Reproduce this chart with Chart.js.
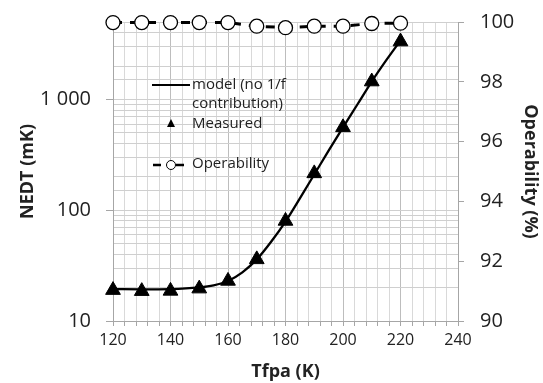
<!DOCTYPE html>
<html>
<head>
<meta charset="utf-8">
<script src="https://cdn.jsdelivr.net/npm/chart.js@4/dist/chart.umd.min.js"></script>
<style>
  body { margin: 0; background: #fff; }
  #wrap { width: 543px; height: 383px; }
</style>
</head>
<body>
<div id="wrap"><canvas id="chart" width="543" height="383"></canvas></div>
<script>
// Dados
const tempsMedidas = [120, 130, 140, 150, 160, 170, 180, 190, 200, 210, 220];
const nedtMedido = [19, 18.6, 18.7, 19.6, 23, 36, 80, 215, 560, 1450, 3330];
const operabilidade = [99.98, 99.98, 99.98, 99.98, 99.98, 99.86, 99.81, 99.86, 99.86, 99.95, 99.96];

const tempsModelo = [120, 130, 140, 150, 155, 160, 165, 170, 175, 180, 185, 190, 195, 200, 205, 210, 215, 220];
const nedtModelo = [19.4, 19.3, 19.4, 20.1, 21, 23, 27.5, 36, 52, 79, 128, 210, 345, 560, 900, 1450, 2250, 3400];

const legendaTextos = [['model (no 1/f', 'contribution)'], ['Measured'], ['Operability']];

const fonte = "'Open Sans', 'DejaVu Sans', sans-serif";
const corTexto = '#222';

const pts = (xs, ys) => xs.map((x, i) => ({ x: x, y: ys[i] }));

// Eixos verticais sem folga extra para os rótulos
const fixaLargura = (w) => (s) => {
    s.width = w;
    s.paddingTop = 0;
    s.paddingBottom = 0;
};

// Legenda desenhada dentro da área do gráfico
const legendaPlugin = {
    id: 'legendaInterna',
    afterDatasetsDraw(chart) {
        const ctx = chart.ctx;
        ctx.save();
        ctx.font = '15px ' + fonte;
        ctx.fillStyle = corTexto;
        ctx.textBaseline = 'middle';
        const xTexto = 192;
        // modelo
        ctx.strokeStyle = '#000';
        ctx.lineWidth = 2;
        ctx.beginPath();
        ctx.moveTo(152, 85);
        ctx.lineTo(190, 85);
        ctx.stroke();
        ctx.fillText(legendaTextos[0][0], xTexto, 85);
        ctx.fillText(legendaTextos[0][1], xTexto, 104);
        // medido
        ctx.fillStyle = '#000';
        ctx.beginPath();
        ctx.moveTo(171, 119);
        ctx.lineTo(175, 127);
        ctx.lineTo(167, 127);
        ctx.closePath();
        ctx.fill();
        ctx.fillStyle = corTexto;
        ctx.fillText(legendaTextos[1][0], xTexto, 124);
        // operabilidade
        ctx.lineWidth = 2.5;
        ctx.beginPath();
        ctx.moveTo(153, 165);
        ctx.lineTo(161, 165);
        ctx.moveTo(176, 165);
        ctx.lineTo(184, 165);
        ctx.stroke();
        ctx.lineWidth = 1;
        ctx.fillStyle = '#fff';
        ctx.beginPath();
        ctx.arc(171, 165, 4.5, 0, Math.PI * 2);
        ctx.fill();
        ctx.stroke();
        ctx.fillStyle = corTexto;
        ctx.fillText(legendaTextos[2][0], xTexto, 164);
        ctx.restore();
    }
};

new Chart(document.getElementById('chart'), {
    type: 'line',
    data: {
        datasets: [{
            label: 'Operability',
            data: pts(tempsMedidas, operabilidade),
            yAxisID: 'y2',
            borderColor: '#000',
            borderWidth: 3,
            borderDash: [9, 8],
            pointStyle: 'circle',
            pointRadius: 7,
            pointBackgroundColor: '#fff',
            pointBorderColor: '#000',
            pointBorderWidth: 1.3,
            clip: false,
            order: 1
        }, {
            label: 'Measured',
            data: pts(tempsMedidas, nedtMedido),
            yAxisID: 'y',
            showLine: false,
            pointStyle: 'triangle',
            pointRadius: 8.5,
            pointBackgroundColor: '#000',
            pointBorderColor: '#000',
            clip: false,
            order: 2
        }, {
            label: 'model (no 1/f contribution)',
            data: pts(tempsModelo, nedtModelo),
            yAxisID: 'y',
            borderColor: '#000',
            borderWidth: 2.3,
            pointRadius: 0,
            cubicInterpolationMode: 'monotone',
            order: 3
        }]
    },
    options: {
        responsive: false,
        animation: false,
        layout: { padding: { top: 22, right: 0, left: 0, bottom: 0 } },
        plugins: {
            legend: { display: false },
            tooltip: { enabled: false }
        },
        scales: {
            x: {
                type: 'linear',
                min: 120,
                max: 240,
                afterFit: (s) => { s.height = 62; s.paddingLeft = 0; s.paddingRight = 0; },
                border: { color: '#a6a6a6' },
                grid: {
                    color: (c) => c.tick && c.tick.value % 20 === 0 ? '#bdbdbd' : '#d9d9d9',
                    tickColor: '#a6a6a6',
                    tickLength: 5
                },
                ticks: {
                    stepSize: 4,
                    autoSkip: false,
                    maxRotation: 0,
                    padding: 5,
                    color: corTexto,
                    font: { family: fonte, size: 16 },
                    callback: (v) => v % 20 === 0 ? v : ''
                },
                title: {
                    display: true,
                    text: 'Tfpa (K)',
                    color: corTexto,
                    font: { family: fonte, size: 18, weight: 'bold' },
                    padding: { top: 6, bottom: 0 }
                }
            },
            y: {
                type: 'logarithmic',
                position: 'left',
                min: 10,
                max: 5000,
                afterFit: fixaLargura(113),
                border: { color: '#a6a6a6' },
                grid: {
                    color: '#cfcfcf',
                    tickColor: (c) => {
                        const l = Math.log10(c.tick.value);
                        return Math.abs(l - Math.round(l)) < 1e-9 ? '#a6a6a6' : 'rgba(0,0,0,0)';
                    },
                    tickLength: 7
                },
                ticks: {
                    autoSkip: false,
                    padding: 15,
                    color: corTexto,
                    font: { family: fonte, size: 20 },
                    callback: (v) => {
                        const l = Math.log10(v);
                        if (Math.abs(l - Math.round(l)) > 1e-9) return '';
                        return String(v).replace(/\B(?=(\d{3})+(?!\d))/g, ' ');
                    }
                },
                title: {
                    display: true,
                    text: 'NEDT (mK)',
                    color: corTexto,
                    font: { family: fonte, size: 18, weight: 'bold' },
                    padding: { top: 17, bottom: 0 }
                }
            },
            y2: {
                type: 'linear',
                position: 'right',
                min: 90,
                max: 100,
                afterFit: fixaLargura(85),
                border: { color: '#a6a6a6' },
                grid: {
                    drawOnChartArea: false,
                    tickColor: '#a6a6a6',
                    tickLength: 6
                },
                ticks: {
                    stepSize: 2,
                    padding: 16,
                    color: corTexto,
                    font: { family: fonte, size: 20 }
                },
                title: {
                    display: true,
                    text: 'Operability (%)',
                    color: corTexto,
                    font: { family: fonte, size: 18, weight: 'bold' },
                    padding: { top: 2, bottom: 0 }
                }
            }
        }
    },
    plugins: [legendaPlugin]
});
</script>
</body>
</html>
